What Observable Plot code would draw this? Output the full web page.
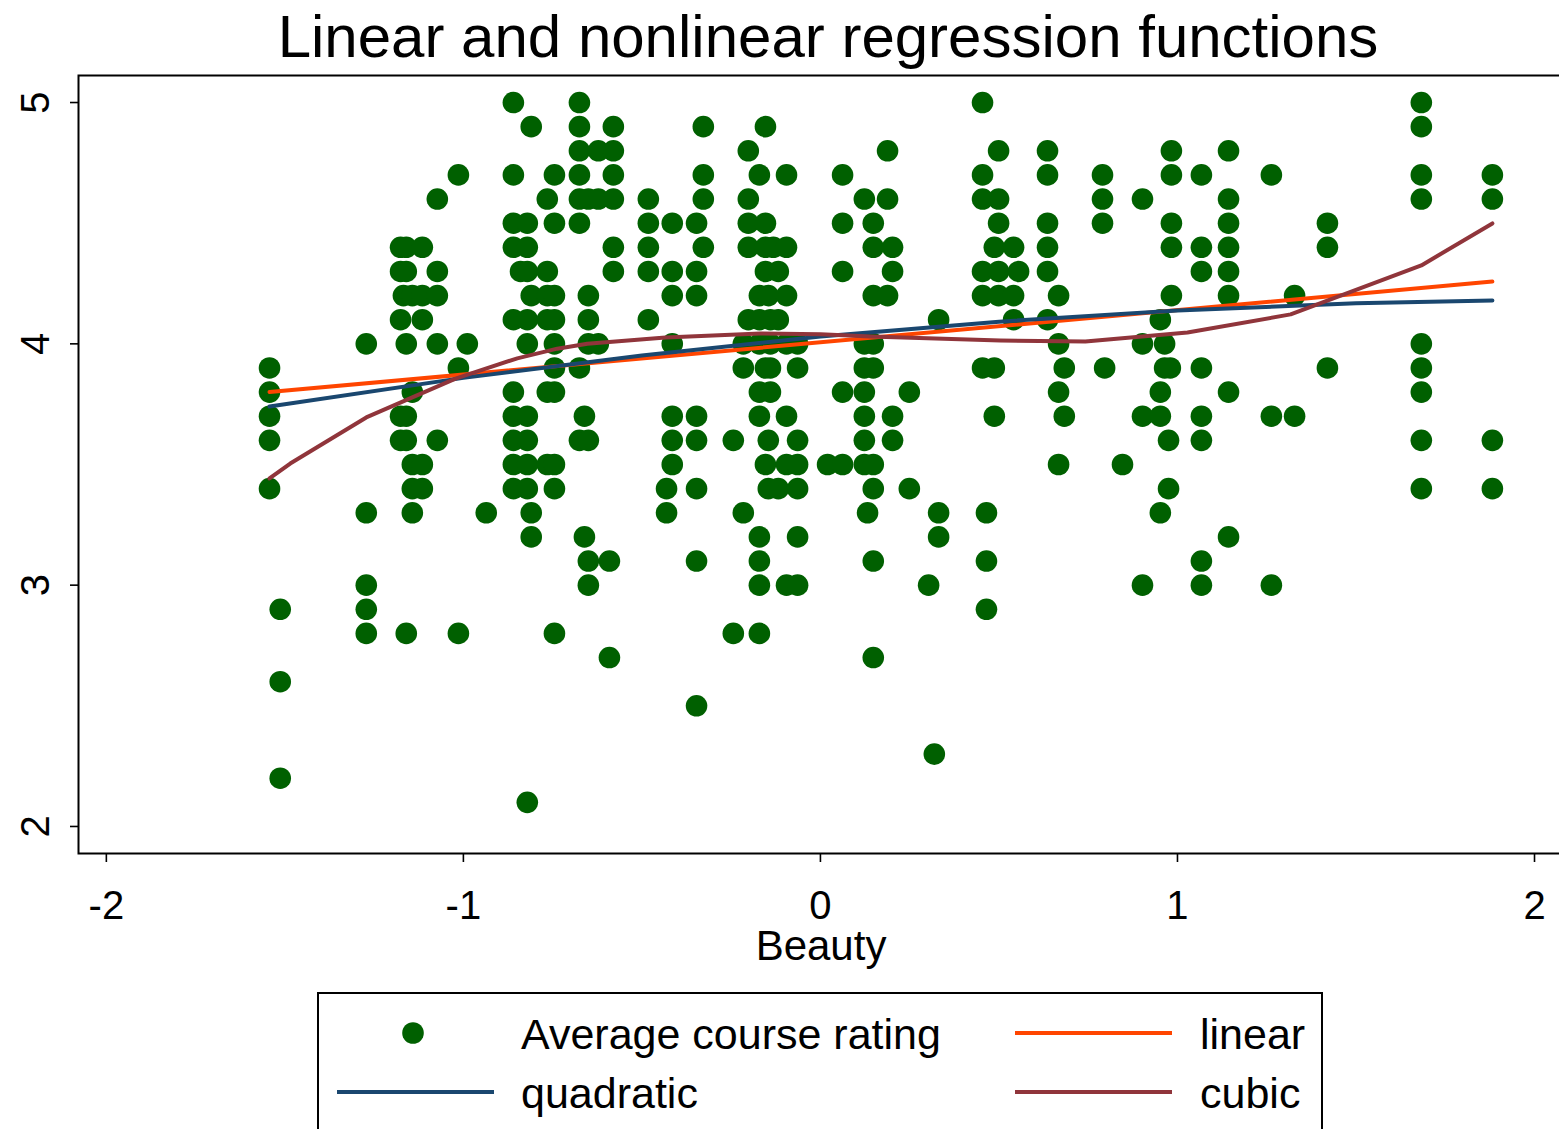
<!DOCTYPE html>
<html>
<head>
<meta charset="utf-8">
<script src="https://cdn.jsdelivr.net/npm/d3@7"></script>
<script src="https://cdn.jsdelivr.net/npm/@observablehq/plot@0.6"></script>
<style>
  body { margin: 0; background: #fff; }
  #wrap { position: relative; width: 1559px; height: 1129px; overflow: hidden; background: #fff; }
  #wrap svg { position: absolute; left: 0; top: 0; }
</style>
</head>
<body>
<div id="wrap"></div>
<script>
// ---------- data ----------
const titleText = "Linear and nonlinear regression functions";
const xLabel = "Beauty";
const xTicks = [-2, -1, 0, 1, 2];
const yTicks = [2, 3, 4, 5];
const seriesNames = ["Average course rating", "linear", "quadratic", "cubic"];

const beautyScores = [
  -1.543, -1.513, -1.272, -1.176, -1.168, -1.160, -1.143, -1.115, -1.073, -1.014,
  -0.989, -0.936, -0.860, -0.840, -0.821, -0.810, -0.765, -0.745, -0.675, -0.661,
  -0.650, -0.622, -0.591, -0.580, -0.482, -0.431, -0.415, -0.347, -0.328, -0.244,
  -0.216, -0.202, -0.171, -0.154, -0.146, -0.140, -0.132, -0.118, -0.095, -0.064,
  0.020, 0.062, 0.123, 0.132, 0.148, 0.188, 0.202, 0.249, 0.303, 0.319,
  0.331, 0.454, 0.465, 0.487, 0.499, 0.541, 0.555, 0.636, 0.667, 0.683,
  0.790, 0.796, 0.846, 0.902, 0.952, 0.964, 0.975, 0.980, 0.983, 1.067,
  1.143, 1.263, 1.328, 1.420, 1.683, 1.882
];
const ratingsByScore = [
  [3.9,3.8,3.7,3.6,3.4], [2.9,2.6,2.2], [4.0,3.3,3.0,2.9,2.8], [4.4,4.3,4.1,3.7,3.6], [4.2],
  [4.4,4.3,4.0,3.7,3.6,2.8], [4.2,3.8,3.5,3.4,3.3], [4.4,4.2,4.1,3.5,3.4], [4.6,4.3,4.2,4.0,3.6], [4.7,3.9,2.8],
  [4.0], [3.3], [5.0,4.7,4.5,4.4,4.1,3.8,3.7,3.6,3.5,3.4], [4.3], [4.5,4.4,4.3,4.1,4.0,3.7,3.6,3.5,3.4,2.1],
  [4.9,4.2,3.3,3.2], [4.6,4.3,4.2,4.1,3.8,3.5], [4.7,4.5,4.2,4.1,4.0,3.9,3.8,3.5,3.4,2.8], [5.0,4.9,4.8,4.7,4.6,4.5,3.9,3.6], [3.7,3.2],
  [4.6,4.2,4.1,4.0,3.6,3.1,3.0], [4.8,4.6,4.0], [3.1,2.7], [4.9,4.8,4.7,4.6,4.4,4.3], [4.6,4.5,4.4,4.3,4.1],
  [3.4,3.3], [4.5,4.3,4.2,4.0,3.7,3.6,3.5], [4.5,4.3,4.2,3.7,3.6,3.4,3.1,2.5], [4.9,4.7,4.6,4.4], [3.6,2.8],
  [4.0,3.9,3.3], [4.8,4.6,4.5,4.4,4.1], [4.7,4.2,4.1,4.0,3.8,3.7,3.2,3.1,3.0,2.8], [4.9,4.5,4.4,4.3,3.9,3.5], [4.2,3.6,3.4],
  [4.1,4.0,3.9,3.8], [4.4], [4.3,4.1,3.4], [4.7,4.4,4.2,4.0,3.7,3.5,3.0], [4.0,3.9,3.6,3.5,3.4,3.2,3.0],
  [3.5], [4.7,4.5,4.3,3.8,3.5], [4.6,4.0,3.9,3.8,3.7,3.6,3.5], [3.3], [4.5,4.4,4.2,4.0,3.9,3.5,3.4,3.1,2.7],
  [4.8,4.6,4.2], [4.4,4.3,3.7,3.6], [3.8,3.4], [3.0], [2.3],
  [4.1,3.3,3.2], [5.0,4.7,4.6,4.3,4.2,3.9], [3.3,3.1,2.9], [4.4,3.9,3.7], [4.8,4.6,4.5,4.3,4.2],
  [4.4,4.2,4.1], [4.3], [4.8,4.7,4.5,4.4,4.3,4.1], [4.2,4.0,3.8,3.5], [3.9,3.7],
  [4.7,4.6,4.5], [3.9], [3.5], [4.6,4.0,3.7,3.0], [4.1,3.8,3.7,3.3],
  [4.0,3.9], [3.6,3.4], [3.9], [4.8,4.7,4.5,4.4,4.2], [4.7,4.4,4.3,3.9,3.7,3.6,3.1,3.0],
  [4.8,4.6,4.5,4.4,4.3,4.2,3.8,3.2], [4.7,3.7,3.0], [4.2,3.7], [4.5,4.4,3.9], [5.0,4.9,4.7,4.6,4.0,3.9,3.8,3.6,3.4],
  [4.7,4.6,3.6,3.4]
];

// fitted values
const linearX = [-1.543, 1.882];
const linearY = [3.800, 4.258];
const quadX = [-1.543, -1.0, -0.5, 0, 0.5, 1.0, 1.5, 1.882];
const quadY = [3.740, 3.859, 3.952, 4.030, 4.092, 4.138, 4.168, 4.180];
const cubicX = [-1.543, -1.485, -1.272, -1.022, -0.849, -0.737, -0.653, -0.434, -0.168, 0, 0.140, 0.504, 0.742, 1.028, 1.317, 1.683, 1.882];
const cubicY = [3.442, 3.504, 3.695, 3.856, 3.940, 3.980, 4.000, 4.026, 4.043, 4.040, 4.030, 4.014, 4.010, 4.047, 4.122, 4.325, 4.499];

// ---------- styles ----------
const FONT = "'Liberation Sans', Arial, Helvetica, sans-serif";
const cDots = "#006000";
const cLinear = "#ff4500";
const cQuad = "#1a476f";
const cCubic = "#90353b";

const points = beautyScores.flatMap((b, i) => ratingsByScore[i].map(r => ({beauty: b, rating: r})));
const toRows = (xs, ys) => xs.map((x, i) => ({x, y: ys[i]}));
const fmt = d => (d < 0 ? "-" + Math.abs(d) : String(d));

const W = 1559, H = 1129;
const chart = Plot.plot({
  width: W, height: H,
  marginLeft: 78, marginTop: 75, marginRight: -20, marginBottom: 276,
  x: {domain: [-2.078, 2.126]},
  y: {domain: [1.888, 5.112]},
  style: {fontFamily: FONT, background: "transparent", color: "black", overflow: "hidden"},
  marks: [
    Plot.frame({stroke: "black", strokeWidth: 2}),
    Plot.axisY(yTicks, {tickSize: 8, tickRotate: -90, tickPadding: 22, fontSize: 40, tickFormat: fmt, label: null, strokeWidth: 1.6}),
    Plot.axisX(xTicks, {tickSize: 9, tickPadding: 28, fontSize: 40, tickFormat: fmt, label: null, strokeWidth: 1.6}),
    Plot.text([xLabel], {frameAnchor: "bottom", lineAnchor: "middle", dx: -8, dy: 93, fontSize: 42, text: d => d, fill: "black"}),
    Plot.dot(points, {x: "beauty", y: "rating", r: 10.8, fill: cDots, stroke: null}),
    Plot.line(toRows(linearX, linearY), {x: "x", y: "y", stroke: cLinear, strokeWidth: 4}),
    Plot.line(toRows(quadX, quadY), {x: "x", y: "y", stroke: cQuad, strokeWidth: 4}),
    Plot.line(toRows(cubicX, cubicY), {x: "x", y: "y", stroke: cCubic, strokeWidth: 4})
  ]
});
const wrap = document.getElementById("wrap");
wrap.appendChild(chart);

// ---------- title + legend overlay ----------
const over = d3.select(wrap).append("svg")
  .attr("width", W).attr("height", H)
  .style("font-family", FONT);

over.append("text")
  .attr("x", 828).attr("y", 57)
  .attr("text-anchor", "middle")
  .attr("font-size", 60)
  .text(titleText);

over.append("rect")
  .attr("x", 318).attr("y", 993).attr("width", 1004).attr("height", 200)
  .attr("fill", "none").attr("stroke", "black").attr("stroke-width", 2);

const legendItems = [
  {name: seriesNames[0], kind: "dot", color: cDots, sx: 337, tx: 521, cy: 1033},
  {name: seriesNames[1], kind: "line", color: cLinear, sx: 1015, tx: 1200, cy: 1033},
  {name: seriesNames[2], kind: "line", color: cQuad, sx: 337, tx: 521, cy: 1092},
  {name: seriesNames[3], kind: "line", color: cCubic, sx: 1015, tx: 1200, cy: 1092}
];
for (const it of legendItems) {
  if (it.kind === "dot") {
    over.append("circle").attr("cx", it.sx + 76).attr("cy", it.cy).attr("r", 10.8).attr("fill", it.color);
  } else {
    over.append("line").attr("x1", it.sx).attr("x2", it.sx + 157)
      .attr("y1", it.cy).attr("y2", it.cy)
      .attr("stroke", it.color).attr("stroke-width", 4);
  }
  over.append("text").attr("x", it.tx).attr("y", it.cy + 16)
    .attr("font-size", 43).text(it.name);
}
</script>
</body>
</html>
